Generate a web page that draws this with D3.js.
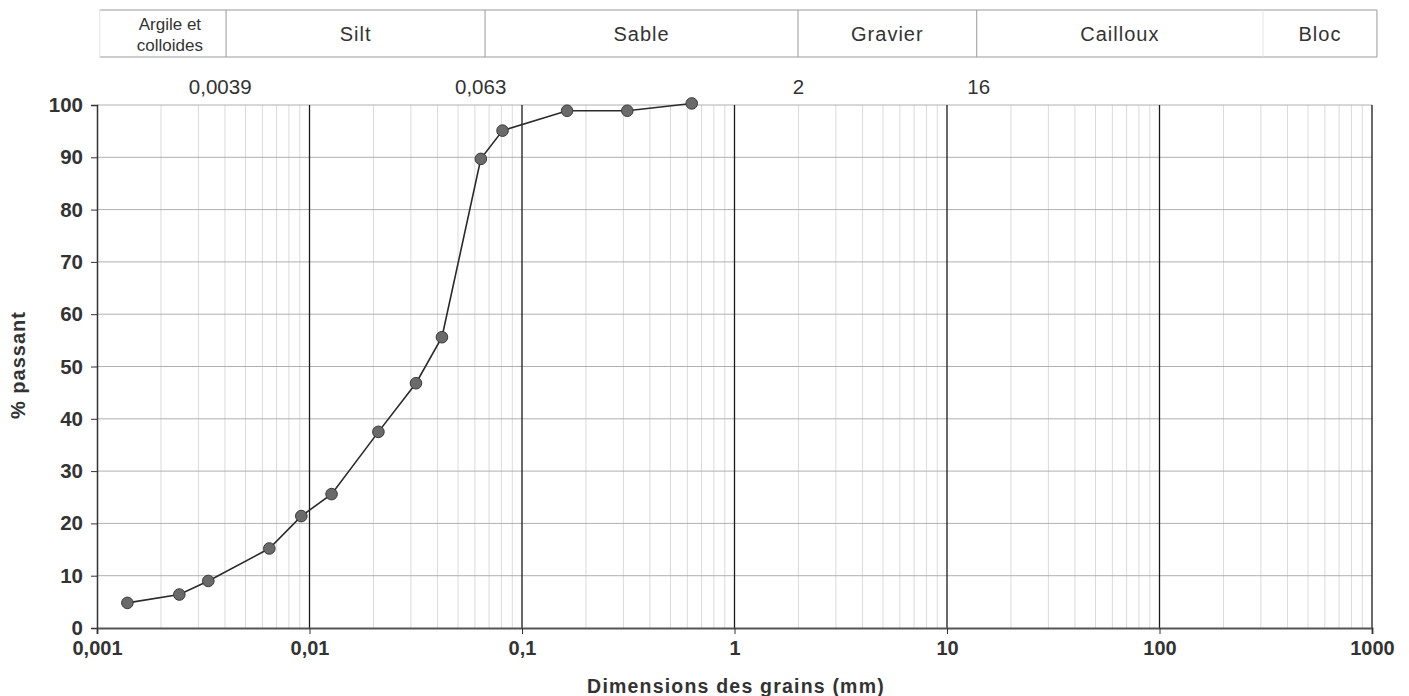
<!DOCTYPE html>
<html><head><meta charset="utf-8">
<script src="https://cdn.jsdelivr.net/npm/d3@7"></script>
<style>
html,body{margin:0;padding:0;background:#fff;}
svg{display:block;font-family:Arial,"Liberation Sans",sans-serif;}
</style></head>
<body><svg id="c" width="1409" height="696"></svg>
<script>
// grain size (mm) and % passing
const sizes = [0.00139, 0.00244, 0.00334, 0.00647, 0.00915, 0.0127, 0.0211, 0.0317, 0.042, 0.064, 0.081, 0.163, 0.313, 0.629];
const passing = [4.8, 6.4, 9.0, 15.2, 21.4, 25.6, 37.5, 46.8, 55.6, 89.7, 95.1, 98.9, 98.9, 100.3];
const xTicks = [0.001, 0.01, 0.1, 1, 10, 100, 1000];
const xTickLabels = ["0,001", "0,01", "0,1", "1", "10", "100", "1000"];
const yTicks = [0, 10, 20, 30, 40, 50, 60, 70, 80, 90, 100];
const classNames = ["Argile et|colloides", "Silt", "Sable", "Gravier", "Cailloux", "Bloc"];
const classEdges = [0.00103, 0.00405, 0.067, 1.99, 13.8, 307, 1055];
const boundaryLabels = ["0,0039", "0,063", "2", "16"];
const boundaryAt = [0.0038, 0.0639, 2, 14.1];
const xTitle = "Dimensions des grains (mm)";
const yTitle = "% passant";

const svg = d3.select("#c");
const x = d3.scaleLog().domain([0.001, 1000]).range([97, 1372]);
const y = d3.scaleLinear().domain([0, 100]).range([628, 105]);

// minor vertical grid
const minors = [];
for (let d = -3; d < 3; d++) for (let k = 2; k <= 9; k++) minors.push(k * Math.pow(10, d));
svg.append("g").selectAll("line").data(minors).join("line")
  .attr("x1", d => x(d)).attr("x2", d => x(d)).attr("y1", y(100)).attr("y2", y(0))
  .attr("stroke", "#dadada").attr("stroke-width", 1);
// horizontal grid
svg.append("g").selectAll("line").data(yTicks.filter(v => v > 0)).join("line")
  .attr("x1", x(0.001)).attr("x2", x(1000)).attr("y1", d => y(d)).attr("y2", d => y(d))
  .attr("stroke", "#b0b0b0").attr("stroke-width", 1);
// major vertical lines
svg.append("g").selectAll("line").data(xTicks.slice(1)).join("line")
  .attr("x1", d => x(d)).attr("x2", d => x(d)).attr("y1", y(100)).attr("y2", y(0))
  .attr("stroke", "#1a1a1a").attr("stroke-width", 1.3);

const FONT = "Arial, 'Liberation Sans', sans-serif";
// axes
const yAxis = d3.axisLeft(y).tickValues(yTicks).tickSize(6).tickPadding(8);
const gy = svg.append("g").attr("transform", `translate(${x(0.001)},0)`).call(yAxis);
gy.select(".domain").attr("stroke", "#333").attr("stroke-width", 1.5);
gy.selectAll(".tick line").attr("stroke", "#333");
gy.selectAll("text").attr("font-size", 20.5).attr("font-weight", "bold").attr("fill", "#333")
  .attr("font-family", FONT);

const xAxis = d3.axisBottom(x).tickValues(xTicks).tickFormat((d, i) => xTickLabels[i]).tickSize(6).tickPadding(7);
const gx = svg.append("g").attr("transform", `translate(0,${y(0)})`).call(xAxis);
gx.select(".domain").attr("stroke", "#555").attr("stroke-width", 2);
gx.selectAll(".tick line").attr("stroke", "#333");
gx.selectAll("text").attr("font-size", 20).attr("font-weight", "bold").attr("fill", "#333")
  .attr("font-family", FONT);

// axis titles
svg.append("text").attr("x", 736).attr("y", 693).attr("text-anchor", "middle")
  .attr("font-size", 19.5).attr("font-weight", "bold").attr("fill", "#333").attr("letter-spacing", 1.2)
  .text(xTitle);
svg.append("text").attr("transform", "translate(25,365) rotate(-90)").attr("text-anchor", "middle")
  .attr("font-size", 20).attr("font-weight", "bold").attr("fill", "#333").attr("letter-spacing", 1)
  .text(yTitle);

// header classification band
const hdr = svg.append("g");
const hTop = 10, hBot = 57;
hdr.append("line").attr("x1", x(classEdges[0])).attr("x2", x(classEdges[classEdges.length - 1]))
  .attr("y1", hTop).attr("y2", hTop).attr("stroke", "#9a9a9a");
hdr.append("line").attr("x1", x(classEdges[0])).attr("x2", x(classEdges[classEdges.length - 1]))
  .attr("y1", hBot).attr("y2", hBot).attr("stroke", "#9a9a9a");
hdr.selectAll("line.e").data(classEdges).join("line").attr("class", "e")
  .attr("x1", d => x(d)).attr("x2", d => x(d)).attr("y1", hTop).attr("y2", hBot)
  .attr("stroke", (d, i) => (i === 0 || i === 5) ? "#e4e4e4" : "#9a9a9a");
classNames.forEach((n, i) => {
  const cx = (x(classEdges[i]) + x(classEdges[i + 1])) / 2 + (i === 0 ? 7 : 0);
  const parts = n.split("|");
  if (parts.length === 2) {
    hdr.append("text").attr("x", cx).attr("y", 30).attr("text-anchor", "middle")
      .attr("font-size", 17).attr("fill", "#333").text(parts[0]);
    hdr.append("text").attr("x", cx).attr("y", 51).attr("text-anchor", "middle")
      .attr("font-size", 17).attr("fill", "#333").text(parts[1]);
  } else {
    hdr.append("text").attr("x", cx).attr("y", 41).attr("text-anchor", "middle")
      .attr("font-size", 20).attr("fill", "#333").attr("letter-spacing", 1).text(n);
  }
});
hdr.selectAll("text.b").data(boundaryLabels).join("text").attr("class", "b")
  .attr("x", (d, i) => x(boundaryAt[i])).attr("y", 94).attr("text-anchor", "middle")
  .attr("font-size", 20.5).attr("fill", "#333").text(d => d);

// data
const pts = sizes.map((s, i) => [s, passing[i]]);
svg.append("path").datum(pts)
  .attr("d", d3.line().x(d => x(d[0])).y(d => y(d[1])))
  .attr("fill", "none").attr("stroke", "#2a2a2a").attr("stroke-width", 1.6);
svg.append("g").selectAll("circle").data(pts).join("circle")
  .attr("cx", d => x(d[0])).attr("cy", d => y(d[1])).attr("r", 5.8)
  .attr("fill", "#6a6a6a").attr("stroke", "#3a3a3a").attr("stroke-width", 1);
</script></body></html>
